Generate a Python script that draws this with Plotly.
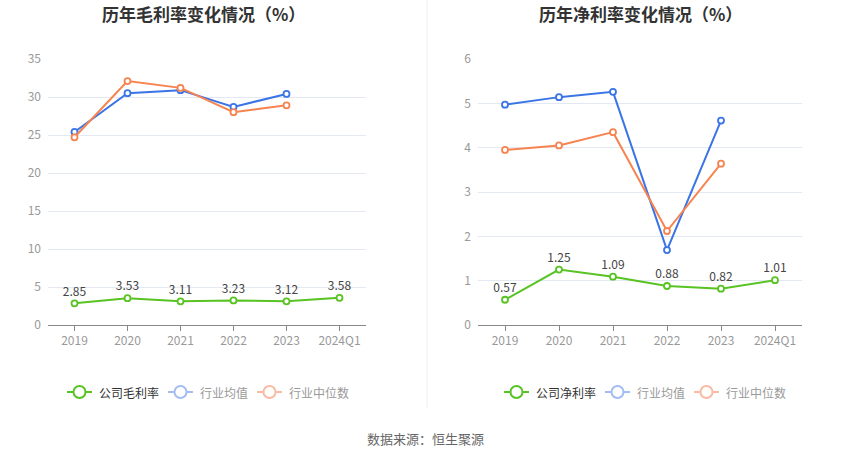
import plotly.graph_objects as go

W, H = 850, 459

years = ["2019", "2020", "2021", "2022", "2023", "2024Q1"]

gross_company = [2.85, 3.53, 3.11, 3.23, 3.12, 3.58]
gross_ind_mean = [25.4, 30.5, 30.9, 28.7, 30.4]
gross_ind_median = [24.7, 32.1, 31.2, 28.0, 28.9]

net_company = [0.57, 1.25, 1.09, 0.88, 0.82, 1.01]
net_ind_mean = [4.97, 5.14, 5.26, 1.69, 4.61]
net_ind_median = [3.95, 4.05, 4.35, 2.12, 3.64]

GREEN = "#58c322"
BLUE = "#3a74e6"
ORANGE = "#f7834f"
FONT = "Noto Sans CJK SC"


def px(x):
    return x / W


def py(y):
    return 1 - y / H


fig = go.Figure()


def add_line(vals, color, xa, ya, labels=False):
    fig.add_trace(go.Scatter(
        x=years[:len(vals)], y=vals, xaxis=xa, yaxis=ya,
        mode="lines+markers+text" if labels else "lines+markers",
        line=dict(color=color, width=2),
        marker=dict(size=6, color="white", line=dict(color=color, width=1.8)),
        text=[f"{v:.2f}" for v in vals] if labels else None,
        textposition="top center",
        textfont=dict(size=12, color="#444", family=FONT),
        cliponaxis=False, showlegend=False, hoverinfo="x+y",
    ))


add_line(gross_ind_mean, BLUE, "x", "y")
add_line(gross_ind_median, ORANGE, "x", "y")
add_line(gross_company, GREEN, "x", "y", labels=True)
add_line(net_ind_mean, BLUE, "x2", "y2")
add_line(net_ind_median, ORANGE, "x2", "y2")
add_line(net_company, GREEN, "x2", "y2", labels=True)

xcommon = dict(type="category", showgrid=False, showline=True, linecolor="#888",
               linewidth=1, ticks="outside", ticklen=5, tickcolor="#888",
               tickfont=dict(size=12, color="#999", family=FONT),
               range=[-0.5, 5.5], fixedrange=True, automargin=False)
ycommon = dict(showgrid=True, gridcolor="#e3e8f3", gridwidth=1, zeroline=False,
               showline=False, ticks="", ticklabelstandoff=6, automargin=False,
               tickfont=dict(size=12, color="#999", family=FONT), fixedrange=True)

ydom = [py(325), py(59)]
fig.update_layout(
    template="none",
    width=W, height=H,
    margin=dict(l=0, r=0, t=0, b=0, pad=0),
    paper_bgcolor="white", plot_bgcolor="white",
    font=dict(family=FONT),
    xaxis=dict(domain=[px(48), px(366)], anchor="y", **xcommon),
    yaxis=dict(domain=ydom, anchor="x", range=[0, 35], dtick=5, **ycommon),
    xaxis2=dict(domain=[px(478), px(802)], anchor="y2", **xcommon),
    yaxis2=dict(domain=ydom, anchor="x2", range=[0, 6], dtick=1, **ycommon),
)


def note(x, y, text, size, color, xanchor="center"):
    fig.add_annotation(x=px(x), y=py(y), xref="paper", yref="paper", text=text,
                       xanchor=xanchor, yanchor="middle", showarrow=False,
                       font=dict(size=size, color=color, family=FONT))


# titles
note(203, 14, "<b>历年毛利率变化情况（%）</b>", 17, "#333")
note(640, 14, "<b>历年净利率变化情况（%）</b>", 17, "#333")

# divider
fig.add_shape(type="line", xref="paper", yref="paper", x0=px(427), x1=px(427),
              y0=1, y1=py(408), line=dict(color="#eeeeee", width=1))

# legends
legend_items = [
    (67, GREEN, "公司毛利率", "#333"), (168, "#a3bdf3", "行业均值", "#999"),
    (257, "#f9bba3", "行业中位数", "#999"),
    (504, GREEN, "公司净利率", "#333"), (605, "#a3bdf3", "行业均值", "#999"),
    (694, "#f9bba3", "行业中位数", "#999"),
]
ly = 392
for x0, c, label, tc in legend_items:
    fig.add_shape(type="line", xref="paper", yref="paper", x0=px(x0), x1=px(x0 + 25),
                  y0=py(ly), y1=py(ly), line=dict(color=c, width=2))
    cx = x0 + 12.5
    fig.add_shape(type="circle", xref="paper", yref="paper",
                  x0=px(cx - 6), x1=px(cx + 6), y0=py(ly + 6), y1=py(ly - 6),
                  fillcolor="white", line=dict(color=c, width=2))
    note(x0 + 30, ly, label, 12, tc, xanchor="left")

note(425, 438, "数据来源：恒生聚源", 13, "#666")

# drop the default 8px page margin so the figure sits at the window corner
fig.write_html("out.html", config={"displayModeBar": False},
               post_script="document.body.style.margin='0';")
